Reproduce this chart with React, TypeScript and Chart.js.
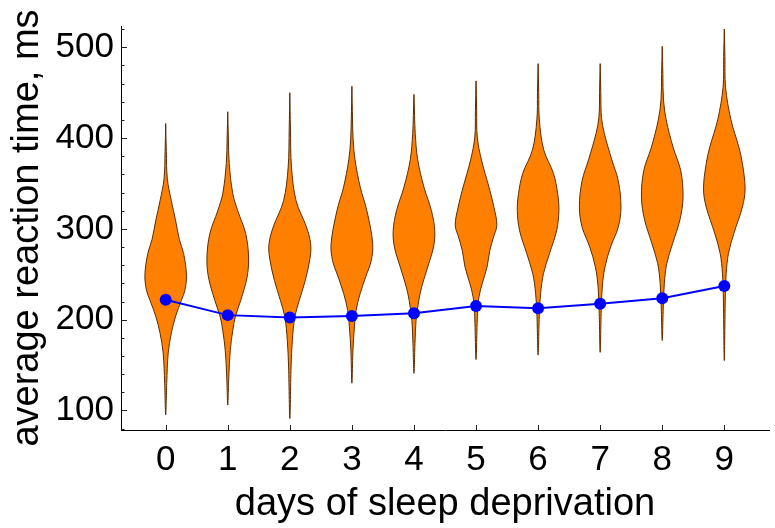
import React, { useEffect, useRef } from 'react';
import { Chart, registerables } from 'chart.js';

Chart.register(...registerables);

// ---- data ----
const days = [0, 1, 2, 3, 4, 5, 6, 7, 8, 9];
const dayLabels = ['0', '1', '2', '3', '4', '5', '6', '7', '8', '9'];
const meanReaction = [222, 205, 202.5, 204, 207, 215, 212.5, 217.5, 223.5, 237];

// violin density profiles: [reaction time (ms), relative half-width], top to bottom
const violin0 = [[416, 0], [385, 0.03], [355, 0.08], [331, 0.27], [310, 0.47], [288, 0.66], [273, 0.86], [249, 1.0], [232, 0.92], [221, 0.75], [204, 0.48], [185, 0.27], [163, 0.12], [130, 0.05], [95, 0]];
const violin1 = [[429, 0], [400, 0.03], [372, 0.07], [339, 0.24], [320, 0.48], [295, 0.86], [269, 1.0], [247, 0.93], [221, 0.62], [203, 0.36], [188, 0.24], [166, 0.12], [137, 0.05], [106, 0]];
const violin2 = [[450, 0], [410, 0.03], [368, 0.08], [331, 0.3], [302, 0.8], [284, 1.0], [269, 0.98], [243, 0.74], [221, 0.45], [203, 0.24], [177, 0.12], [148, 0.06], [91, 0]];
const violin3 = [[457, 0], [420, 0.03], [398, 0.06], [376, 0.15], [346, 0.4], [320, 0.72], [284, 1.0], [265, 0.93], [247, 0.66], [229, 0.4], [210, 0.2], [192, 0.12], [166, 0.05], [130, 0]];
const violin4 = [[448, 0], [425, 0.03], [405, 0.06], [376, 0.18], [346, 0.48], [320, 0.84], [298, 1.0], [280, 0.94], [258, 0.66], [236, 0.37], [221, 0.23], [199, 0.1], [174, 0.05], [141, 0]];
const violin5 = [[463, 0], [430, 0.03], [401, 0.06], [376, 0.26], [346, 0.62], [324, 0.86], [304, 1.0], [291, 0.84], [276, 0.66], [258, 0.53], [240, 0.3], [225, 0.14], [207, 0.07], [156, 0]];
const violin6 = [[482, 0], [450, 0.03], [420, 0.06], [387, 0.27], [361, 0.74], [339, 0.94], [320, 1.0], [298, 0.89], [273, 0.55], [251, 0.26], [229, 0.12], [207, 0.06], [161, 0]];
const violin7 = [[482, 0], [450, 0.03], [423, 0.06], [405, 0.2], [376, 0.56], [353, 0.87], [324, 1.0], [302, 0.87], [280, 0.5], [258, 0.23], [236, 0.1], [210, 0.05], [164, 0]];
const violin8 = [[501, 0], [470, 0.03], [442, 0.06], [420, 0.19], [390, 0.52], [364, 0.89], [335, 1.0], [310, 0.85], [284, 0.5], [262, 0.22], [240, 0.1], [214, 0.05], [177, 0]];
const violin9 = [[520, 0], [490, 0.03], [456, 0.06], [420, 0.32], [390, 0.7], [372, 0.87], [344, 1.0], [324, 0.87], [295, 0.46], [273, 0.2], [251, 0.09], [229, 0.05], [155, 0]];
const violinProfiles = [violin0, violin1, violin2, violin3, violin4, violin5, violin6, violin7, violin8, violin9];

const yMajorTicks = [100, 200, 300, 400, 500];
const yMinorTicks = [80, 120, 140, 160, 180, 220, 240, 260, 280, 320, 340, 360, 380, 420, 440, 460, 480, 520];

// ---- layout / style ----
const Y_MIN = 78.5;
const Y_MAX = 523.4;
const X_MIN = -0.72;
const X_MAX = 9.72;
const HALF_WIDTH = 0.335;
const FONT = "'Liberation Sans', Arial, sans-serif";

function violinPoints(i: number, profile: number[][]) {
  const right = profile.map(([v, w]) => ({ x: i + w * HALF_WIDTH, y: v }));
  const left = profile
    .slice(0, -1)
    .reverse()
    .map(([v, w]) => ({ x: i - w * HALF_WIDTH, y: v }));
  return [...right, ...left];
}

const tickMarks = {
  id: 'tickMarks',
  afterDraw(chart: any) {
    const { ctx, chartArea, scales } = chart;
    const x = scales.x;
    const y = scales.y;
    ctx.save();
    ctx.strokeStyle = '#222';
    ctx.lineWidth = 1;
    ctx.beginPath();
    const left = chartArea.left;
    const bottom = chartArea.bottom;
    yMajorTicks.forEach((v) => {
      const py = Math.round(y.getPixelForValue(v)) + 0.5;
      ctx.moveTo(left, py);
      ctx.lineTo(left + 6, py);
    });
    yMinorTicks.forEach((v) => {
      const py = Math.round(y.getPixelForValue(v)) + 0.5;
      ctx.moveTo(left, py);
      ctx.lineTo(left + 3.5, py);
    });
    days.forEach((d) => {
      const px = Math.round(x.getPixelForValue(d)) + 0.5;
      ctx.moveTo(px, bottom);
      ctx.lineTo(px, bottom - 5);
    });
    ctx.stroke();
    ctx.restore();
  },
};

export default function App() {
  const ref = useRef<HTMLCanvasElement | null>(null);

  useEffect(() => {
    if (!ref.current) return;
    const violinSets = violinProfiles.map((p, i) => ({
      type: 'line' as const,
      label: 'day ' + dayLabels[i],
      data: violinPoints(days[i], p),
      borderColor: '#5a2c00',
      borderWidth: 1,
      backgroundColor: '#ff8000',
      fill: 'shape',
      tension: 0.35,
      pointRadius: 0,
      order: 1,
    }));
    const chart = new Chart(ref.current, {
      type: 'line',
      data: {
        datasets: [
          {
            label: 'mean',
            data: days.map((d, i) => ({ x: d, y: meanReaction[i] })),
            borderColor: '#0000ff',
            borderWidth: 2,
            pointRadius: 6,
            pointBackgroundColor: '#0000ff',
            pointBorderWidth: 0,
            fill: false,
            tension: 0,
            order: 0,
          },
          ...violinSets,
        ] as any,
      },
      options: {
        animation: false,
        responsive: true,
        maintainAspectRatio: false,
        events: [],
        layout: { padding: { top: 26, right: 0, left: 0, bottom: 0 } },
        plugins: {
          legend: { display: false },
          tooltip: { enabled: false },
        },
        scales: {
          x: {
            type: 'linear',
            min: X_MIN,
            max: X_MAX,
            grid: { display: false, drawTicks: false },
            border: { display: true, color: '#000', width: 1 },
            afterBuildTicks: (s: any) => {
              s.ticks = days.map((d) => ({ value: d }));
            },
            afterFit: (s: any) => {
              s.height = 98;
              s.paddingLeft = 0;
              s.paddingRight = 0;
            },
            ticks: {
              autoSkip: false,
              maxRotation: 0,
              padding: 9,
              color: '#000',
              font: { family: FONT, size: 35 },
              callback: (v: any) => dayLabels[days.indexOf(Number(v))] ?? '',
            },
            title: {
              display: true,
              text: 'days of sleep deprivation',
              color: '#000',
              font: { family: FONT, size: 38 },
              padding: { top: 0, bottom: 1 },
            },
          },
          y: {
            type: 'linear',
            min: Y_MIN,
            max: Y_MAX,
            grid: { display: false, drawTicks: false },
            border: { display: true, color: '#000', width: 1 },
            afterBuildTicks: (s: any) => {
              s.ticks = yMajorTicks.map((v) => ({ value: v }));
            },
            afterFit: (s: any) => {
              s.width = 121;
              s.paddingTop = 0;
              s.paddingBottom = 0;
            },
            ticks: {
              padding: 7,
              color: '#000',
              font: { family: FONT, size: 35 },
              callback: (v: any) => String(v),
            },
            title: {
              display: true,
              text: 'average reaction time, ms',
              color: '#000',
              font: { family: FONT, size: 38 },
              padding: { top: 5, bottom: 0 },
            },
          },
        },
      },
      plugins: [tickMarks],
    });
    return () => chart.destroy();
  }, []);

  return (
    <div style={{ position: 'fixed', left: 0, top: 0, width: 775, height: 528, background: '#fff' }}>
      <canvas ref={ref} />
    </div>
  );
}
